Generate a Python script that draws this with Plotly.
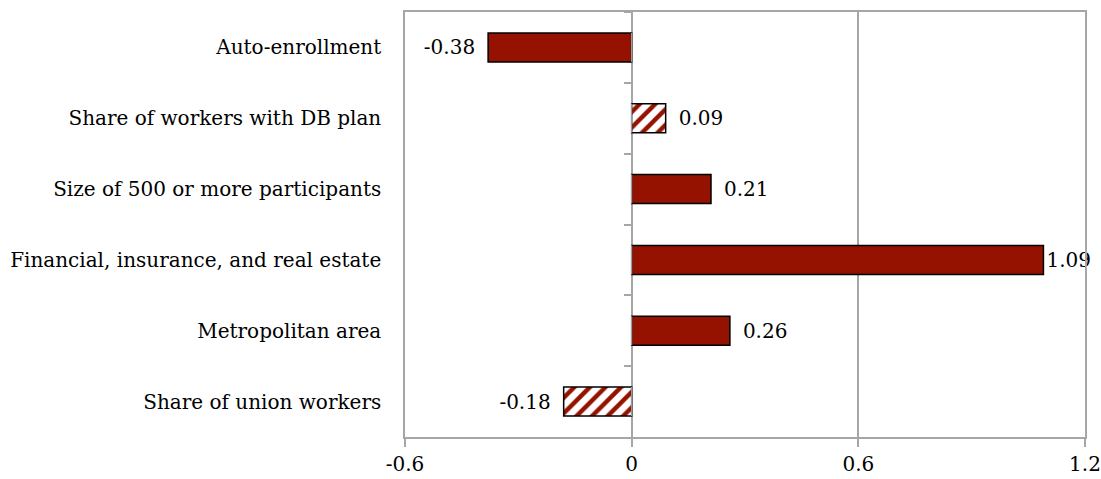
import plotly.graph_objects as go

categories = ["Auto-enrollment", "Share of workers with DB plan", "Size of 500 or more participants",
              "Financial, insurance, and real estate", "Metropolitan area", "Share of union workers"]
values = [-0.38, 0.09, 0.21, 1.09, 0.26, -0.18]
hatched = [False, True, False, False, False, True]
x_tickvals = [-0.6, 0, 0.6, 1.2]
x_ticktext = ["-0.6", "0", "0.6", "1.2"]

RED = "#951200"
GRID = "#a6a6a6"
FONT = "DejaVu Serif"
SIZE = 20

PAD = "\u2002"
labels = [(f"{v:.2f}" + PAD) if v < 0 else (f"{v:.2f}" if v > 1 else PAD + f"{v:.2f}") for v in values]

fig = go.Figure()
fig.add_trace(go.Bar(
    y=categories, x=values, orientation="h", width=0.41,
    marker=dict(
        color=RED,
        line=dict(color="black", width=1.5),
        pattern=dict(shape=["/" if h else "" for h in hatched], fgcolor=RED, bgcolor="white",
                     size=11, solidity=0.4, fillmode="replace"),
    ),
    text=labels, texttemplate="%{text}", textposition="outside", cliponaxis=False,
    textfont=dict(family=FONT, size=SIZE, color="black"),
    showlegend=False, hoverinfo="skip",
))
# invisible trace on second y axis to draw category tick marks on the zero line
fig.add_trace(go.Bar(y=categories, x=[0] * len(categories), orientation="h", yaxis="y2",
                     showlegend=False, hoverinfo="skip", marker=dict(color="rgba(0,0,0,0)")))

fig.update_layout(
    width=1101, height=479,
    margin=dict(l=405, r=16, t=12, b=42, autoexpand=False),
    paper_bgcolor="white", plot_bgcolor="white",
    font=dict(family=FONT, size=SIZE, color="black"),
    bargap=0.59,
    xaxis=dict(range=[-0.6, 1.2], tickvals=x_tickvals, ticktext=x_ticktext,
               showgrid=True, gridcolor=GRID, gridwidth=1.5, automargin=False,
               zeroline=True, zerolinecolor=GRID, zerolinewidth=2,
               showline=True, linecolor=GRID, linewidth=1.5, mirror=True,
               ticks="outside", ticklen=8, tickcolor=GRID, tickwidth=1.5,
               tickfont=dict(family=FONT, size=SIZE, color="black")),
    yaxis=dict(type="category", categoryorder="array", categoryarray=categories,
               range=[5.5, -0.5], showgrid=False, automargin=False,
               showline=True, linecolor=GRID, linewidth=1.5, mirror=True,
               ticks="", ticklabelstandoff=18,
               tickfont=dict(family=FONT, size=SIZE, color="black")),
    yaxis2=dict(type="category", categoryorder="array", categoryarray=categories,
                range=[5.5, -0.5], overlaying="y", anchor="free", position=1/3, side="left",
                showgrid=False, showline=False, showticklabels=False, automargin=False,
                ticks="outside", tickson="boundaries", ticklen=8, tickcolor=GRID, tickwidth=1.5),
)

fig.write_html("out.html", post_script="document.body.style.margin='0';",
               config={"displayModeBar": False})
